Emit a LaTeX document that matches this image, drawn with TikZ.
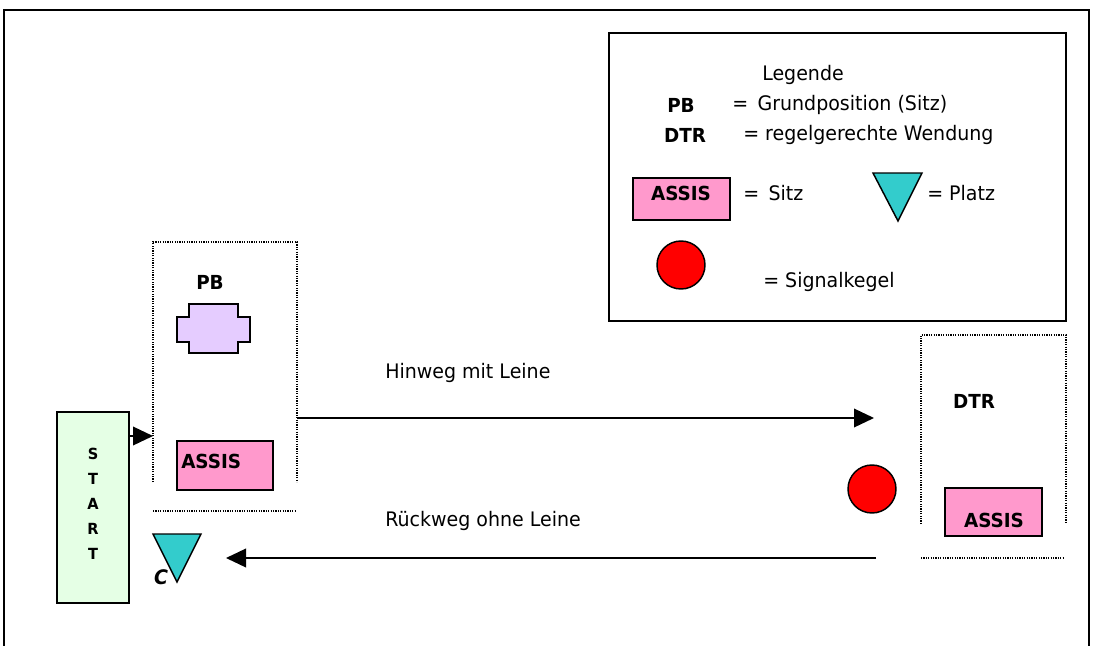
\documentclass[tikz,border=0pt]{standalone}
\usepackage{fontspec}
\setmainfont{DejaVu Sans}[FakeStretch=0.95]
\usetikzlibrary{arrows.meta}
\definecolor{assispink}{HTML}{FF99CC}
\definecolor{pblilac}{HTML}{E5CCFF}
\definecolor{platzteal}{HTML}{33CCCC}
\definecolor{startgreen}{HTML}{E5FFE5}
\definecolor{kegelred}{HTML}{FF0000}
\tikzset{
  frameline/.style={line width=1.1pt},
  dotline/.style={line width=0.9pt, dash pattern=on 0.9pt off 0.9pt},
  assisbox/.style={draw, line width=1.1pt, fill=assispink, inner sep=0pt},
  boldtxt/.style={font=\fontsize{14.5}{16}\selectfont\bfseries, inner sep=0pt},
  normtxt/.style={font=\fontsize{15}{17}\selectfont, inner sep=0pt},
  platz/.style={draw, line width=1.1pt, fill=platzteal, line join=miter},
  kegel/.style={draw, line width=1.1pt, fill=kegelred, circle, inner sep=0pt, minimum size=36pt},
  arr/.style={line width=1.1pt, -{Triangle[length=15pt,width=14pt]}},
}
\begin{document}
\begin{tikzpicture}[x=0.75pt,y=-0.75pt]
\useasboundingbox (0,0) rectangle (1096,646);
% outer frame
\draw[frameline] (4,650) -- (4,10) -- (1089,10) -- (1089,650);
% legend box
\draw[frameline] (609,33) rectangle (1066,321);
\node[normtxt] (legTitle) at (803,75) {Legende};
\node[boldtxt] (legPB) at (681,105) {PB};
\node[normtxt, anchor=west] (legPBtxt) at (732,105) {=\, Grundposition (Sitz)};
\node[boldtxt] (legDTR) at (685,135) {DTR};
\node[normtxt, anchor=west] (legDTRtxt) at (743,135) {= regelgerechte Wendung};
\node[assisbox, minimum width=72.75pt, minimum height=31.5pt] (legAssis) at (681.5,199) {};
\node[boldtxt] (legAssisTxt) at (681,193) {ASSIS};
\node[normtxt, anchor=west] (legSitz) at (743,193) {=\, Sitz};
\draw[platz] (873,173) -- (922,173) -- (898,221) -- cycle;
\node[normtxt, anchor=west] (legPlatz) at (927,193) {= Platz};
\node[kegel] (legKegel) at (681,265) {};
\node[normtxt, anchor=west] (legKegelTxt) at (763,282) {= Signalkegel};

% PB zone
\draw[dotline] (153,482) -- (153,242) -- (297,242) -- (297,482);
\draw[dotline] (153,511) -- (296,511);
\node[boldtxt] (pbLabel) at (210,282) {PB};
\draw[line width=1.1pt, fill=pblilac]
  (189,304) -- (238,304) -- (238,317) -- (250,317) -- (250,342) -- (238,342)
  -- (238,353) -- (189,353) -- (189,342) -- (177,342) -- (177,317) -- (189,317) -- cycle;
\node[assisbox, minimum width=72pt, minimum height=36.75pt] (pbAssis) at (225,465.5) {};
\node[boldtxt, anchor=west] (pbAssisTxt) at (181,461) {ASSIS};

% START
\node[draw, line width=1.1pt, fill=startgreen, minimum width=54pt, minimum height=143.25pt, inner sep=0pt] (start) at (93,507.5) {};
\node[font=\fontsize{11.5}{18.75}\selectfont\bfseries, align=center, inner sep=0pt] (startTxt) at (93,504) {S\\T\\A\\R\\T};
\coordinate (pbIn) at (153,436);
\draw[arr] (start.east |- pbIn) -- (pbIn);

% Platz C
\draw[platz] (153,534) -- (201,534) -- (177,582) -- cycle;
\node[font=\fontsize{15}{17}\selectfont\bfseries\itshape, inner sep=0pt] (cLabel) at (161,577) {C};

% DTR zone
\draw[dotline] (921,524) -- (921,335) -- (1066,335) -- (1066,524);
\draw[dotline] (921,558) -- (1064,558);
\node[boldtxt] (dtrLabel) at (974,401) {DTR};
\node[assisbox, minimum width=72.75pt, minimum height=36pt] (dtrAssis) at (993.5,512) {};
\node[boldtxt] (dtrAssisTxt) at (994,520) {ASSIS};

% cone
\node[kegel] (kegel) at (872,489) {};

% paths
\node[normtxt, anchor=west] (hinTxt) at (385,373) {Hinweg mit Leine};
\coordinate (hinStart) at (297,418);
\coordinate (hinEnd) at (874,418);
\draw[arr] (hinStart) -- (hinEnd);
\node[normtxt, anchor=west] (rueckTxt) at (385,521) {Rückweg ohne Leine};
\coordinate (rueckStart) at (876,558);
\coordinate (rueckEnd) at (226,558);
\draw[arr] (rueckStart) -- (rueckEnd);
\end{tikzpicture}
\end{document}
